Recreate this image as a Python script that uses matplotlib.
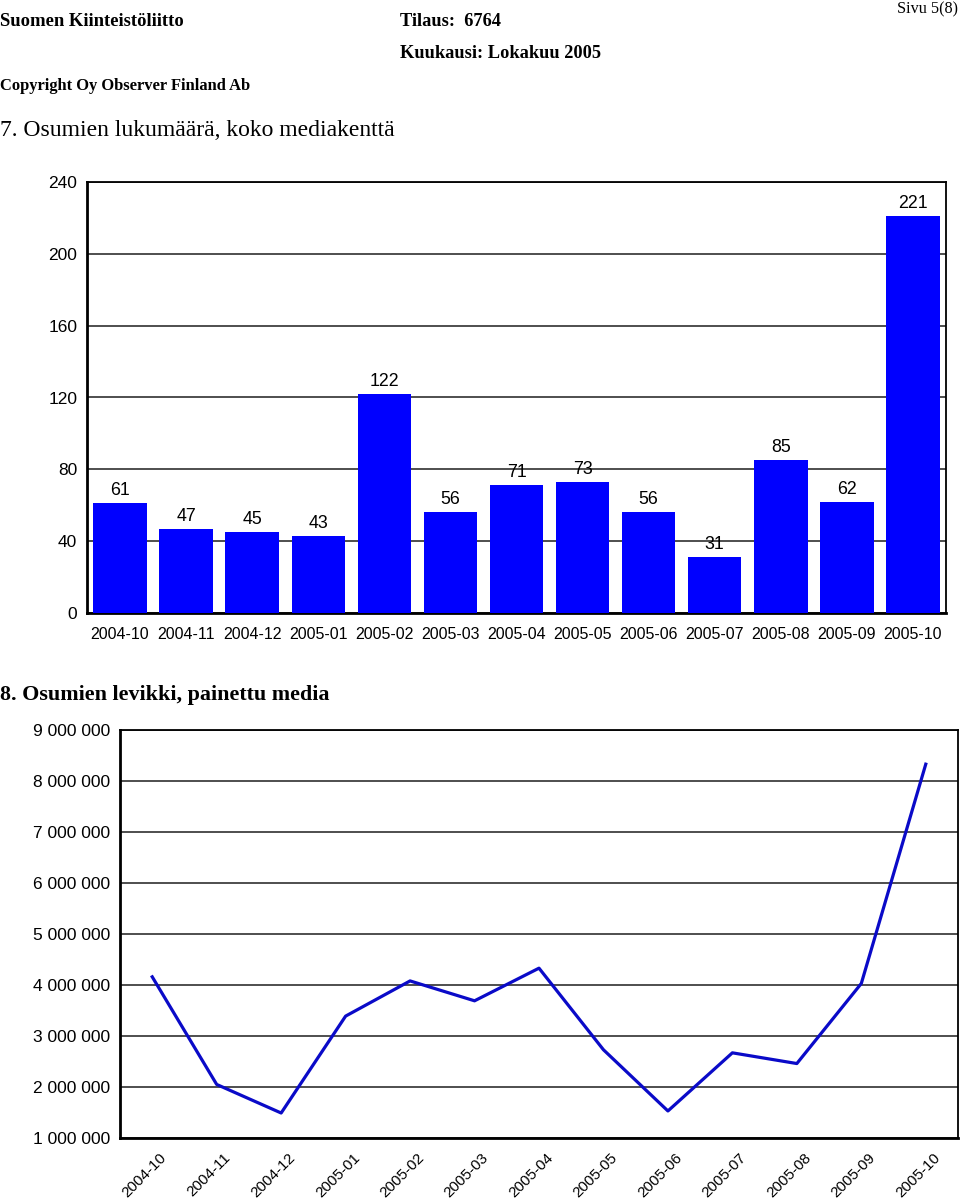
import matplotlib
matplotlib.use("Agg")
import matplotlib.pyplot as plt
from matplotlib.ticker import FuncFormatter
from matplotlib.transforms import ScaledTranslation

months = ["2004-10", "2004-11", "2004-12", "2005-01", "2005-02", "2005-03", "2005-04",
          "2005-05", "2005-06", "2005-07", "2005-08", "2005-09", "2005-10"]
hits = [61, 47, 45, 43, 122, 56, 71, 73, 56, 31, 85, 62, 221]
circulation = [4160000, 2050000, 1490000, 3390000, 4080000, 3690000, 4330000,
               2730000, 1530000, 2670000, 2460000, 4030000, 8330000]

bar_yticks = [0, 40, 80, 120, 160, 200, 240]
line_yticks = [1000000, 2000000, 3000000, 4000000, 5000000, 6000000, 7000000, 8000000, 9000000]

SANS = "Liberation Sans"
SERIF = "Liberation Serif"

fig = plt.figure(figsize=(9.6, 12), dpi=100)
W, H = 960, 1200

def fx(px):
    return px / W

def fy(py):
    return 1 - py / H

# Header
fig.text(fx(0), fy(21), "Suomen Kiinteistöliitto", family=SERIF, weight="bold", fontsize=13.4, va="center", ha="left")
fig.text(fx(400), fy(21), "Tilaus:  6764", family=SERIF, weight="bold", fontsize=13.2, va="center", ha="left")
fig.text(fx(958), fy(9), "Sivu 5(8)", family=SERIF, fontsize=11.7, va="center", ha="right")
fig.text(fx(400), fy(54), "Kuukausi: Lokakuu 2005", family=SERIF, weight="bold", fontsize=13.2, va="center", ha="left")
fig.text(fx(0), fy(86), "Copyright Oy Observer Finland Ab", family=SERIF, weight="bold", fontsize=11.9, va="center", ha="left")
fig.text(fx(0), fy(131), "7. Osumien lukumäärä, koko mediakenttä", family=SERIF, fontsize=17, va="center", ha="left")
fig.text(fx(0), fy(695), "8. Osumien levikki, painettu media", family=SERIF, weight="bold", fontsize=15.8, va="center", ha="left")

grid_color = "#404040"

# Bar chart
ax1 = fig.add_axes([fx(87), fy(613), fx(946 - 87), (613 - 182) / H])
x = list(range(len(months)))
ax1.bar(x, hits, width=0.81, color="#0000FF", zorder=3)
for xi, v in zip(x, hits):
    ax1.annotate(str(v), (xi, v), xytext=(0, 9), textcoords="offset points",
                 ha="center", va="center", family=SANS, fontsize=12.8)
ax1.set_xlim(-0.5, len(months) - 0.5)
ax1.set_ylim(0, 240)
ax1.set_yticks(bar_yticks)
ax1.set_xticks(x)
ax1.set_xticklabels(months)
ax1.tick_params(axis="both", length=0)
ax1.tick_params(axis="y", pad=7, labelsize=12.5)
ax1.tick_params(axis="x", pad=10, labelsize=11.5)
for lab in ax1.get_xticklabels() + ax1.get_yticklabels():
    lab.set_family(SANS)
ax1.grid(axis="y", color=grid_color, linewidth=1.3, zorder=0)
for s in ax1.spines.values():
    s.set_linewidth(1.3)
    s.set_color("black")
ax1.spines["left"].set_linewidth(2)
ax1.spines["bottom"].set_linewidth(2)
ax1.set_axisbelow(True)

# Line chart
ax2 = fig.add_axes([fx(120), fy(1138), fx(958 - 120), (1138 - 730) / H])
ax2.plot(x, circulation, color="#0A0AC8", linewidth=2.3, zorder=3)
ax2.set_xlim(-0.5, len(months) - 0.5)
ax2.set_ylim(1000000, 9000000)
ax2.set_yticks(line_yticks)
ax2.yaxis.set_major_formatter(FuncFormatter(lambda v, p: f"{int(v):,}".replace(",", " ")))
ax2.set_xticks(x)
ax2.set_xticklabels(months, rotation=45, ha="right", rotation_mode="anchor")
ax2.tick_params(axis="both", length=0)
ax2.tick_params(axis="y", pad=7, labelsize=12.5)
ax2.tick_params(axis="x", pad=9, labelsize=11)
shift = ScaledTranslation(7 / 100, 0, fig.dpi_scale_trans)
for lab in ax2.get_xticklabels():
    lab.set_family(SANS)
    lab.set_transform(lab.get_transform() + shift)
for lab in ax2.get_yticklabels():
    lab.set_family(SANS)
ax2.grid(axis="y", color=grid_color, linewidth=1.3, zorder=0)
for s in ax2.spines.values():
    s.set_linewidth(1.3)
    s.set_color("black")
ax2.spines["left"].set_linewidth(2)
ax2.spines["bottom"].set_linewidth(2)
ax2.set_axisbelow(True)

fig.savefig("out.png", dpi=100)
